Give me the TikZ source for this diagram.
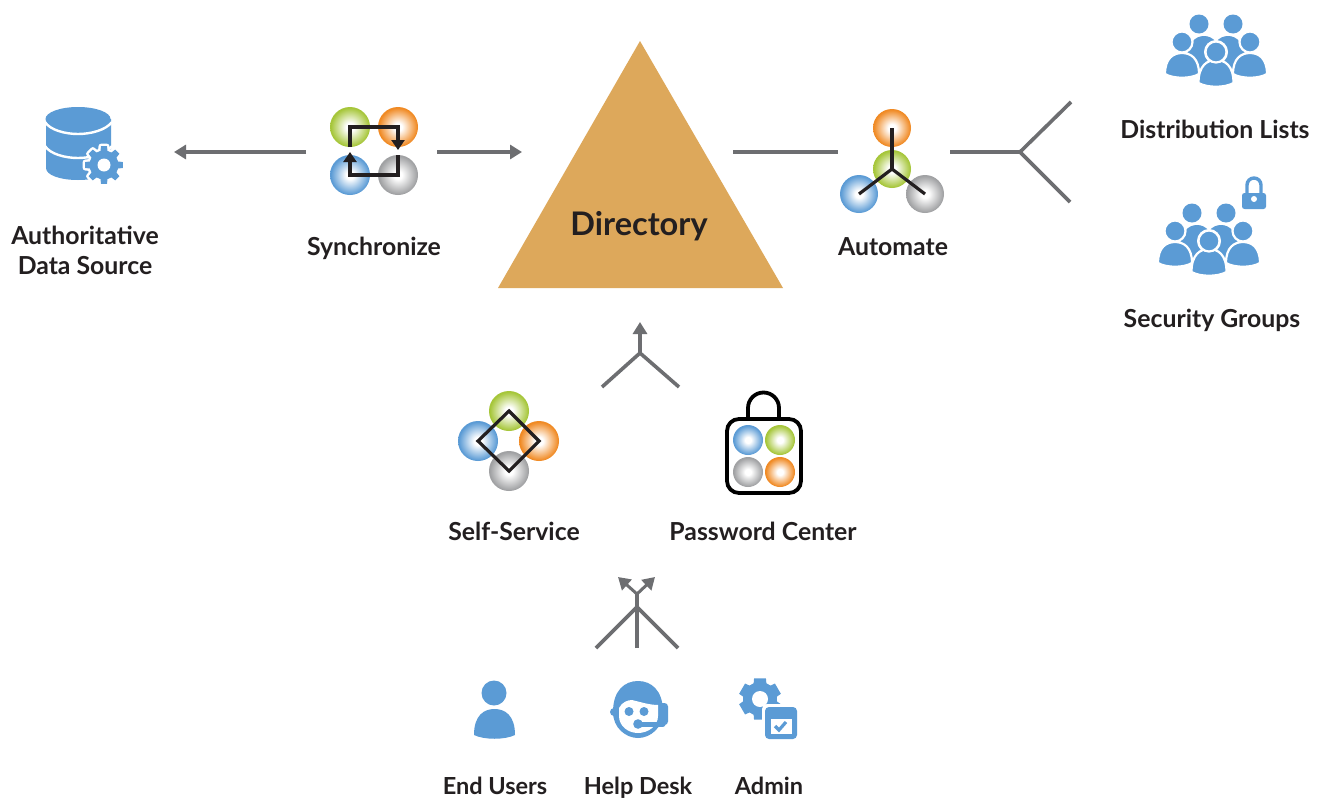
\documentclass[tikz,border=0pt]{standalone}
\usepackage{fontspec}
\setmainfont{Lato}
\usetikzlibrary{arrows.meta}
\definecolor{cG}{HTML}{A6C63A}
\definecolor{cO}{HTML}{F08A24}
\definecolor{cB}{HTML}{5B9BD5}
\definecolor{cY}{HTML}{A0A1A3}
\definecolor{cT}{HTML}{DDA85B}
\definecolor{cL}{HTML}{6D6E71}
\definecolor{cK}{HTML}{231F20}
\pgfdeclareradialshading{ballgreen}{\pgfpointorigin}{color(0bp)=(white); color(5bp)=(white); color(24bp)=(cG); color(50bp)=(cG)}
\pgfdeclareradialshading{ballorange}{\pgfpointorigin}{color(0bp)=(white); color(5bp)=(white); color(24bp)=(cO); color(50bp)=(cO)}
\pgfdeclareradialshading{ballblue}{\pgfpointorigin}{color(0bp)=(white); color(5bp)=(white); color(24bp)=(cB); color(50bp)=(cB)}
\pgfdeclareradialshading{ballgray}{\pgfpointorigin}{color(0bp)=(white); color(5bp)=(white); color(24bp)=(cY); color(50bp)=(cY)}
\tikzset{
  ball/.style={circle,inner sep=0pt,minimum size=40pt,shade,shading=#1},
  ballm/.style={ball=#1,minimum size=38pt},
  balls/.style={ball=#1,minimum size=30pt},
  lbl/.style={font=\fontsize{24.8}{30}\selectfont\bfseries,text=cK,inner sep=0pt,align=center},
  lblb/.style={lbl,anchor=base},
  conn/.style={draw=cL,line width=3.6pt},
  conntip/.style={conn,-{Triangle[length=12pt,width=14pt]}},
  blk/.style={draw=cK,line width=3.2pt},
  blktip/.style={blk,-{Triangle[length=10pt,width=13pt]}},
  ico/.style={fill=cB},
  icow/.style={fill=cB,draw=white,line width=2.2pt},
}
% dome-shaped body: centre x, top y, half width, bottom y, style
\newcommand{\domeshape}[5]{%
  \path[#5] ({#1-#3},{#4-4}) .. controls ({#1-#3},{#2+0.2*(#4-#2)}) and ({#1-0.5*#3},#2) .. (#1,#2)
    .. controls ({#1+0.5*#3},#2) and ({#1+#3},{#2+0.2*(#4-#2)}) .. ({#1+#3},{#4-4})
    .. controls ({#1+0.5*#3},{#4+1}) and ({#1-0.5*#3},{#4+1}) .. cycle;}
% gear: cx, cy, teeth step, outer R, root r, half-angles, style
\newcommand{\gearshape}[8]{%
  \begin{scope}[shift={(#1,#2)}]
  \path[#8] (90-#6:#5) \foreach \a in {0,#3,...,359}{
     -- (90+\a-#6:#5) -- (90+\a-#7:#4) -- (90+\a+#7:#4) -- (90+\a+#6:#5)} -- cycle;
  \end{scope}}
\newcommand{\groupicon}{%
  \domeshape{1204}{36}{18}{72}{ico}
  \domeshape{1228}{36}{18}{72}{ico}
  \fill[cB] (1199,24) circle (9.5);
  \fill[cB] (1233,24) circle (9.5);
  \fill[white] (1216,52) circle (12);
  \domeshape{1182}{53}{17}{78}{icow}
  \domeshape{1250}{53}{17}{78}{icow}
  \draw[icow] (1182,42) circle (10.5);
  \draw[icow] (1250,42) circle (10.5);
  \domeshape{1216}{60}{17.5}{87}{icow}
  \draw[fill=cB,draw=white,line width=2.2pt] (1216,52) circle (10.5);
}
\begin{document}
\begin{tikzpicture}[x=1pt,y=-1pt]
\useasboundingbox (0,0) rectangle (1325,798);
\fill[white] (0,0) rectangle (1325,798);

% triangle
\fill[cT] (640,41) -- (783,288) -- (498,288) -- cycle;
\node[lbl,font=\fontsize{32.5}{36}\selectfont\bfseries] (dir) at (639,226) {Directory};

% database icon
\fill[cB] (46,119) -- (46,168) .. controls (46,175) and (60,180) .. (78,180)
   .. controls (96,180) and (111,175) .. (111,168) -- (111,119) -- cycle;
\fill[cB] (78,119) ellipse (32.5 and 12);
\draw[white,line width=2.4pt] (45,122) .. controls (50,130) and (65,134) .. (78,134) .. controls (91,134) and (106,130) .. (112,122);
\draw[white,line width=2.4pt] (45,146) .. controls (50,154) and (65,158) .. (78,158) .. controls (91,158) and (106,154) .. (112,146);
\gearshape{104}{165}{45}{19}{14.5}{14}{9}{fill=white,draw=white,line width=5pt,line join=round}
\gearshape{104}{165}{45}{19}{14.5}{14}{9}{fill=cB}
\fill[white] (104,165) circle (6.5);
\node[lbl] (ads) at (85,250) {Authoritative\\Data Source};

% synchronize
\node[ball=ballgreen] (sg) at (350,127) {};
\node[ball=ballorange] (so) at (398,127) {};
\node[ball=ballblue] (sb) at (350,175) {};
\node[ball=ballgray] (sy) at (398,175) {};
\coordinate (s1) at (350,147);
\coordinate (s2) at (398,150);
\coordinate (s3) at (398,155);
\coordinate (s4) at (350,152);
\draw[blktip,line join=miter] (s1) -- (sg.center) -- (so.center) -- (s2);
\draw[blktip,line join=miter] (s3) -- (sy.center) -- (sb.center) -- (s4);
\node[lblb] (syn) at (374,255) {Synchronize};
\coordinate (a1) at (306,152);
\coordinate (a2) at (174,152);
\coordinate (a3) at (437,152);
\coordinate (a4) at (522,152);
\draw[conntip] (a1) -- (a2);
\draw[conntip] (a3) -- (a4);

% automate
\coordinate (a5) at (733,152);
\coordinate (a6) at (838,152);
\draw[conn] (a5) -- (a6);
\node[ballm=ballorange] (ao) at (892,128) {};
\node[ballm=ballgreen] (ag) at (892,169) {};
\node[ballm=ballblue] (ab) at (859,194) {};
\node[ballm=ballgray] (ay) at (925,194) {};
\draw[blk] (ao.center) -- (ag.center);
\draw[blk] (ab.center) -- (ag.center) -- (ay.center);
\node[lblb] (aut) at (893,255) {Automate};
\coordinate (b0) at (950,152);
\coordinate (bj) at (1020,152);
\coordinate (b1) at (1071,102);
\coordinate (b2) at (1070,202);
\draw[conn] (b0) -- (bj) -- (b1);
\draw[conn] (bj) -- (b2);

% groups
\groupicon
\node[lblb] (dl) at (1215,138) {Distribution Lists};
\begin{scope}[shift={(-7,189)}]
\groupicon
\end{scope}
\draw[cB,line width=3.4pt] (1247,195) -- (1247,185) arc[start angle=180,end angle=0,x radius=7,y radius=-7] -- (1261,195);
\fill[cB,rounded corners=2.5pt] (1242,193) rectangle (1266,209);
\fill[white] (1254,199) circle (3);
\node[lblb] (sec) at (1212,327) {Security Groups};

% up fork
\coordinate (c0) at (640,322);
\coordinate (cj) at (640,353);
\coordinate (c1) at (602,387);
\coordinate (c2) at (679,387);
\draw[conntip] (cj) -- (c0);
\draw[conn] (c1) -- (cj) -- (c2);

% self-service
\node[ball=ballgreen] (dg) at (509,411) {};
\node[ball=ballblue] (db) at (478,441) {};
\node[ball=ballorange] (do) at (539,441) {};
\node[ball=ballgray] (dy) at (509,471) {};
\draw[blk,line join=miter] (dg.center) -- (do.center) -- (dy.center) -- (db.center) -- cycle;
\node[lblb] (ss) at (514,540) {Self-Service};

% password
\draw[draw=black,line width=3.8pt] (748,420) -- (748,408) arc[start angle=180,end angle=0,x radius=15.5,y radius=-15.5] -- (779,420);
\draw[draw=black,line width=3.8pt,rounded corners=12pt,fill=white] (727,419) rectangle (801,493);
\node[balls=ballblue] (pb) at (748,440) {};
\node[balls=ballgreen] (pg) at (780,440) {};
\node[balls=ballgray] (py) at (748,472) {};
\node[balls=ballorange] (po) at (780,472) {};
\node[lblb] (pc) at (763,540) {Password Center};

% bottom fork
\coordinate (dj) at (637,607);
\coordinate (d1) at (596,648);
\coordinate (d2) at (637,648);
\coordinate (d3) at (678,648);
\coordinate (dm) at (637,594);
\coordinate (t1) at (618,577);
\coordinate (t2) at (655,577);
\draw[conn] (d1) -- (dj) -- (d3);
\draw[conn] (d2) -- (dm);
\draw[conntip,line width=3pt] (dm) -- (t1);
\draw[conntip,line width=3pt] (dm) -- (t2);

% end user
\fill[cB] (494,693) circle (12.5);
\domeshape{494.5}{709}{20.5}{739}{ico}
\node[lblb,font=\fontsize{23.5}{28}\selectfont\bfseries] (eu) at (495,794) {End Users};

% help desk
\fill[cB] (614,712) circle (4);
\fill[cB] (613,712) .. controls (613,690) and (625,681) .. (638,681) .. controls (651,681) and (663,690) .. (663,712)
  .. controls (663,728) and (650,738) .. (638,738) .. controls (626,738) and (613,728) .. (613,712) -- cycle;
\fill[white] (619,708) .. controls (622,702) and (628,700) .. (632,700) .. controls (640,702) and (650,705) .. (658,705)
  -- (658,716) .. controls (658,726) and (648,733) .. (638,733) .. controls (628,733) and (619,726) .. (619,716) -- cycle;
\fill[cB,rounded corners=3.5pt] (659,703) rectangle (668,725);
\fill[cB] (629,711.5) circle (4.5);
\fill[cB] (644,711.5) circle (4.5);
\draw[cB,line width=5pt,line cap=round] (638,724) -- (663,724);
\fill[cB] (638,724) circle (4.8);
\node[lblb,font=\fontsize{23.5}{28}\selectfont\bfseries] (hd) at (638,794) {Help Desk};

% admin
\gearshape{760}{699}{60}{21.5}{17}{22}{16}{fill=cB}
\fill[white] (760,699) circle (8);
\fill[white,rounded corners=5pt] (762,704) rectangle (800,742);
\fill[cB,rounded corners=4pt] (765,707) rectangle (797,739);
\fill[white] (771,719) rectangle (792,734);
\draw[cB,line width=3.2pt] (775,726) -- (779,730) -- (786,722);
\node[lblb,font=\fontsize{23.5}{28}\selectfont\bfseries] (ad) at (769,794) {Admin};
\end{tikzpicture}
\end{document}
